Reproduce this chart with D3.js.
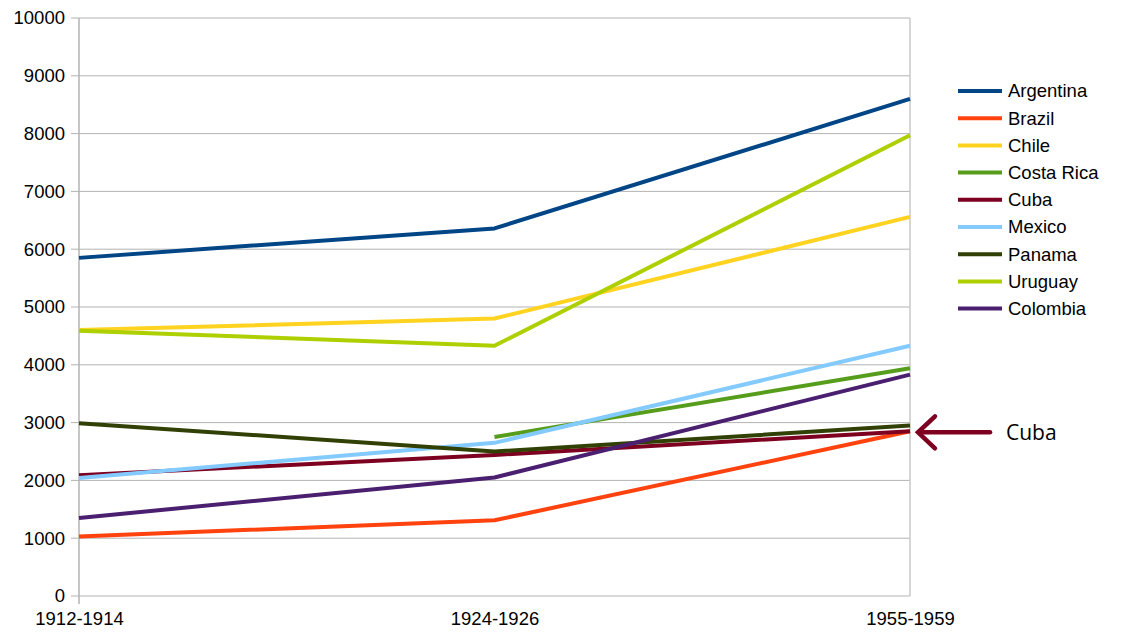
<!DOCTYPE html>
<html>
<head>
<meta charset="UTF-8">
<title>GDP per capita</title>
<script src="https://cdn.jsdelivr.net/npm/d3@7/dist/d3.min.js"></script>
<style>
	body { margin: 0; background: #fff; }
	text { font-family: "Liberation Sans", Arial, sans-serif; }
</style>
</head>
<body>
	<div id="chart"></div>
	<script type="text/javascript">
		var periods = ["1912-1914", "1924-1926", "1955-1959"];
		var yTicks = [0, 1000, 2000, 3000, 4000, 5000, 6000, 7000, 8000, 9000, 10000];

		var argentina = [5850, 6360, 8600];
		var brazil = [1030, 1310, 2850];
		var chile = [4600, 4800, 6560];
		var costaRica = [null, 2750, 3940];
		var cuba = [2090, 2440, 2850];
		var mexico = [2040, 2650, 4330];
		var panama = [2990, 2500, 2950];
		var uruguay = [4590, 4330, 7970];
		var colombia = [1350, 2050, 3830];

		var seriesNames = ["Argentina", "Brazil", "Chile", "Costa Rica", "Cuba", "Mexico", "Panama", "Uruguay", "Colombia"];
		var seriesValues = [argentina, brazil, chile, costaRica, cuba, mexico, panama, uruguay, colombia];
		var colors = ["#004586", "#ff420e", "#ffd320", "#579d1c", "#7e0021", "#83caff", "#314004", "#aecf00", "#4b1f6f"];

		var W = 1144, H = 634;
		var margin = { top : 18, right : 234, bottom : 38, left : 79 };
		var width = W - margin.left - margin.right;
		var height = H - margin.top - margin.bottom;

		var svg = d3.select("#chart").append("svg").attr("width", W).attr("height", H);
		var g = svg.append("g").attr("transform", "translate(" + margin.left + "," + margin.top + ")");

		var x = d3.scalePoint().domain(periods).range([ 0, width ]);
		var y = d3.scaleLinear().domain([ 0, 10000 ]).range([ height, 0 ]);

		// grid
		g.append("g").selectAll("line").data(yTicks).enter().append("line")
			.attr("x1", -8).attr("x2", width)
			.attr("y1", function(d) { return y(d); }).attr("y2", function(d) { return y(d); })
			.attr("stroke", "#b3b3b3").attr("stroke-width", 1);

		// y axis
		var yAxis = g.append("g").call(d3.axisLeft(y).tickValues(yTicks).tickFormat(d3.format("d")).tickSize(0).tickPadding(14));
		yAxis.select(".domain").remove();
		yAxis.selectAll("text").attr("font-size", 18.5).attr("fill", "#000").style("font-family", "Liberation Sans, Arial, sans-serif");

		// vertical axis lines at left and right
		g.append("line").attr("x1", 0).attr("x2", 0).attr("y1", 0).attr("y2", height + 8).attr("stroke", "#b3b3b3").attr("stroke-width", 1.5);
		g.append("line").attr("x1", width).attr("x2", width).attr("y1", 0).attr("y2", height).attr("stroke", "#c8c8c8").attr("stroke-width", 1.5);

		// x axis
		var xAxis = g.append("g").attr("transform", "translate(0," + height + ")").call(d3.axisBottom(x).tickSize(0).tickPadding(16));
		xAxis.select(".domain").remove();
		xAxis.selectAll("text").attr("font-size", 18.5).attr("fill", "#000").style("font-family", "Liberation Sans, Arial, sans-serif");

		// lines
		var line = d3.line().defined(function(d) { return d != null; })
			.x(function(d, i) { return x(periods[i]); })
			.y(function(d) { return y(d); });

		seriesValues.forEach(function(vals, i) {
			g.append("path").datum(vals).attr("fill", "none").attr("stroke", colors[i])
				.attr("stroke-width", 4).attr("stroke-linejoin", "round").attr("d", line);
		});

		// legend
		var legend = svg.append("g").attr("transform", "translate(958,91)");
		seriesNames.forEach(function(name, i) {
			var row = legend.append("g").attr("transform", "translate(0," + (i * 27.2) + ")");
			row.append("line").attr("x1", 0).attr("x2", 44).attr("y1", 0).attr("y2", 0)
				.attr("stroke", colors[i]).attr("stroke-width", 4);
			row.append("text").attr("x", 50).attr("y", 0).attr("dy", "0.35em")
				.attr("font-size", 18.5).attr("fill", "#000").text(name);
		});

		// Cuba annotation arrow
		var ax = margin.left + width + 8, ay = margin.top + y(cuba[2]) + 1;
		var arrow = svg.append("g").attr("stroke", "#7e0021").attr("stroke-width", 4.5).attr("fill", "none")
			.attr("stroke-linecap", "round").attr("stroke-linejoin", "miter");
		arrow.append("line").attr("x1", ax + 2).attr("x2", ax + 72).attr("y1", ay).attr("y2", ay);
		arrow.append("path").attr("d", "M" + (ax + 17) + "," + (ay - 16) + "L" + ax + "," + ay + "L" + (ax + 17) + "," + (ay + 16));
		svg.append("text").attr("x", ax + 88).attr("y", ay).attr("dy", "0.36em")
			.attr("font-size", 21).attr("fill", "#000").style("font-family", "'Open Sans', sans-serif").text("Cuba");
	</script>
</body>
</html>
